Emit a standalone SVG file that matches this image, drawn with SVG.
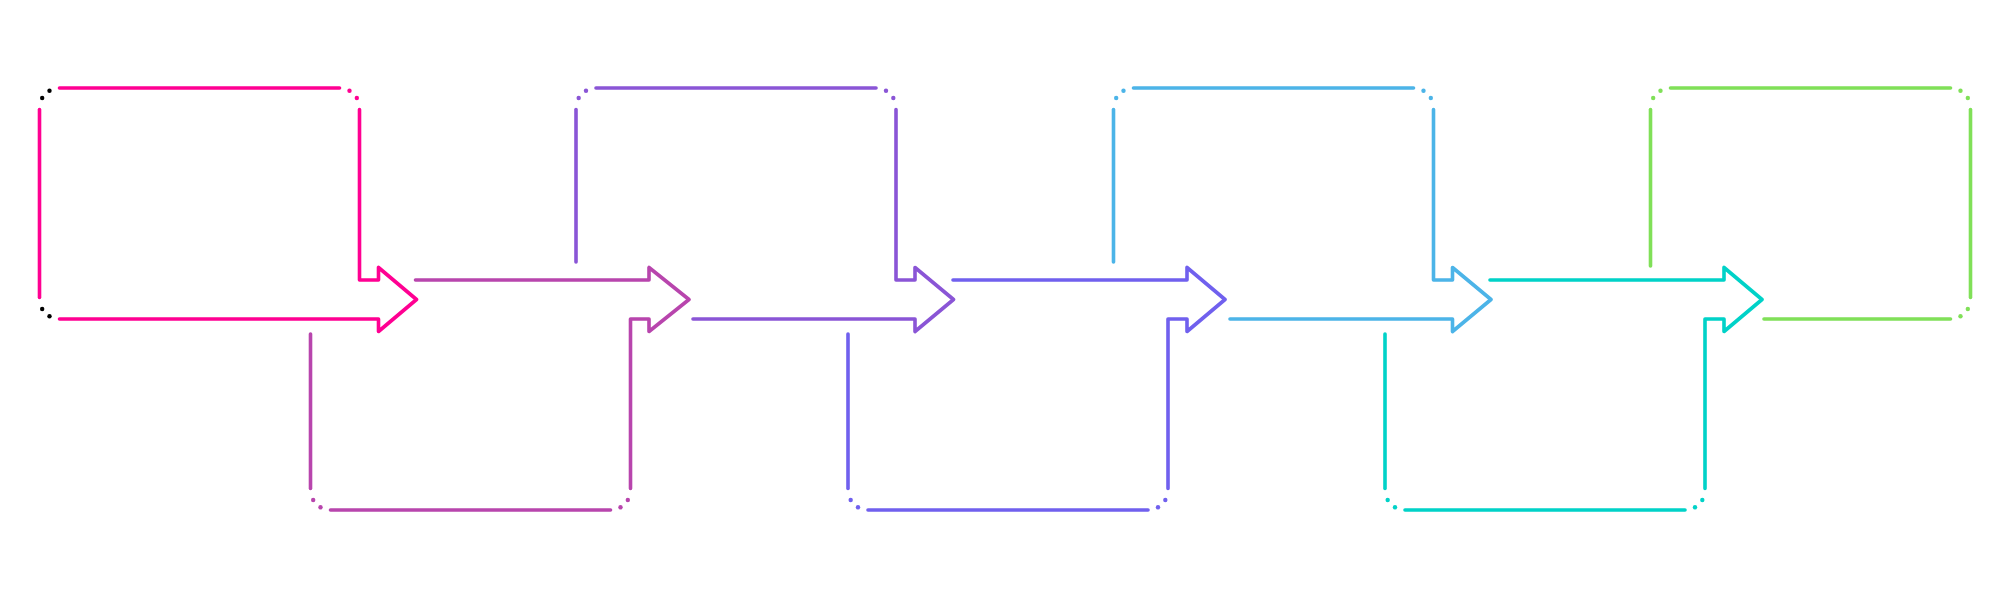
<svg xmlns="http://www.w3.org/2000/svg" width="2000" height="600" viewBox="0 0 2000 600">
<style>
path{fill:none;stroke-width:3.6;stroke-linecap:round;stroke-linejoin:round}
circle{stroke:none}
.c1 path{stroke:#ff0092}.c1 circle{fill:#ff0092}
.c2 path{stroke:#b845ad}.c2 circle{fill:#b845ad}
.c3 path{stroke:#8a55d6}.c3 circle{fill:#8a55d6}
.c4 path{stroke:#7060ee}.c4 circle{fill:#7060ee}
.c5 path{stroke:#4cb4e8}.c5 circle{fill:#4cb4e8}
.c6 path{stroke:#00d2c8}.c6 circle{fill:#00d2c8}
.c7 path{stroke:#80e058}.c7 circle{fill:#80e058}
circle.k{fill:#000}
</style>
<rect width="2000" height="600" fill="#fff"/>
<g id="step1" class="c1">
<path d="M59.5,319 H378.5 V331.5 L416.5,299.5 L378.5,267.5 V280 H359.5 V109.5"/>
<path d="M339.5,88 H59.5"/>
<path d="M39.5,109.5 V297.5"/>
<circle class="k" cx="42.18" cy="98" r="2.2"/><circle class="k" cx="49.5" cy="90.68" r="2.2"/>
<circle cx="349.5" cy="90.68" r="2.2"/><circle cx="356.82" cy="98" r="2.2"/>
<circle class="k" cx="42.18" cy="309" r="2.2"/><circle class="k" cx="49.5" cy="316.32" r="2.2"/>
</g>
<g id="step2" class="c2">
<path d="M310.5,334 V488.5"/>
<path d="M330.5,510 H610.5"/>
<path d="M630.5,488.5 V319 H649 V331.5 L689,299.5 L649,267.5 V280 H415.5"/>
<circle cx="313.18" cy="500" r="2.2"/><circle cx="320.5" cy="507.32" r="2.2"/>
<circle cx="620.5" cy="507.32" r="2.2"/><circle cx="627.82" cy="500" r="2.2"/>
</g>
<g id="step3" class="c3">
<path d="M576,262 V109.5"/>
<path d="M596,88 H876"/>
<path d="M896,109.5 V280 H915 V267.5 L953.5,299.5 L915,331.5 V319 H693"/>
<circle cx="578.68" cy="98" r="2.2"/><circle cx="586" cy="90.68" r="2.2"/>
<circle cx="886" cy="90.68" r="2.2"/><circle cx="893.32" cy="98" r="2.2"/>
</g>
<g id="step4" class="c4">
<path d="M848,334 V488.5"/>
<path d="M868,510 H1148"/>
<path d="M1168,488.5 V319 H1187 V331.5 L1225,299.5 L1187,267.5 V280 H953"/>
<circle cx="850.68" cy="500" r="2.2"/><circle cx="858" cy="507.32" r="2.2"/>
<circle cx="1158" cy="507.32" r="2.2"/><circle cx="1165.32" cy="500" r="2.2"/>
</g>
<g id="step5" class="c5">
<path d="M1113.5,262 V109.5"/>
<path d="M1133.5,88 H1413.5"/>
<path d="M1433.5,109.5 V280 H1452.5 V267.5 L1491,299.5 L1452.5,331.5 V319 H1230"/>
<circle cx="1116.18" cy="98" r="2.2"/><circle cx="1123.5" cy="90.68" r="2.2"/>
<circle cx="1423.5" cy="90.68" r="2.2"/><circle cx="1430.82" cy="98" r="2.2"/>
</g>
<g id="step6" class="c6">
<path d="M1385,334 V488.5"/>
<path d="M1405,510 H1685"/>
<path d="M1705,488.5 V319 H1724 V331.5 L1762,299.5 L1724,267.5 V280 H1490"/>
<circle cx="1387.68" cy="500" r="2.2"/><circle cx="1395" cy="507.32" r="2.2"/>
<circle cx="1695" cy="507.32" r="2.2"/><circle cx="1702.32" cy="500" r="2.2"/>
</g>
<g id="step7" class="c7">
<path d="M1650.5,266 V109.5"/>
<path d="M1670.5,88 H1950.5"/>
<path d="M1970.5,109.5 V297.5"/>
<path d="M1950.5,319 H1764"/>
<circle cx="1653.18" cy="98" r="2.2"/><circle cx="1660.5" cy="90.68" r="2.2"/>
<circle cx="1960.5" cy="90.68" r="2.2"/><circle cx="1967.82" cy="98" r="2.2"/>
<circle cx="1967.82" cy="309" r="2.2"/><circle cx="1960.5" cy="316.32" r="2.2"/>
</g>
<g id="connectors"></g>
</svg>
